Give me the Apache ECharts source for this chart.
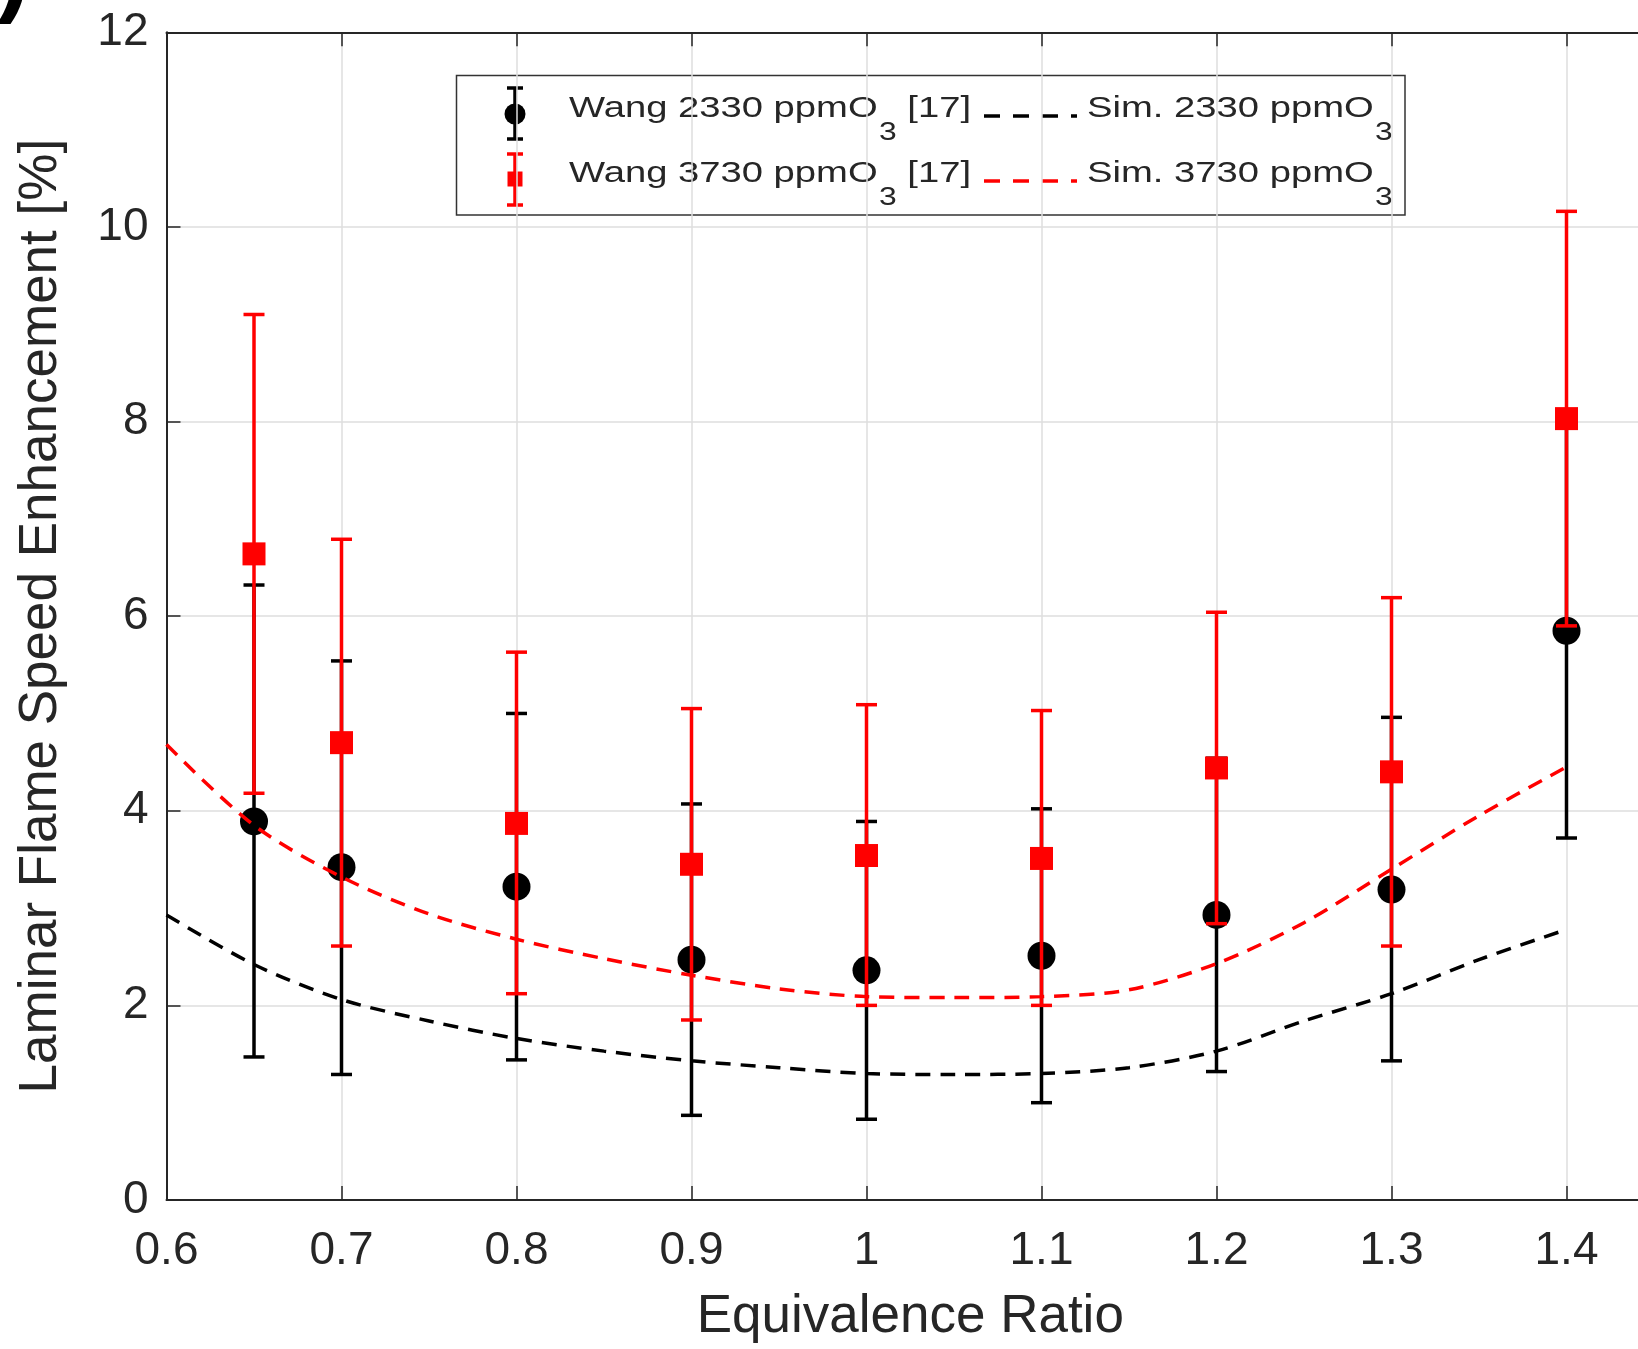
<!DOCTYPE html>
<html>
<head>
<meta charset="utf-8">
<script src="https://cdn.jsdelivr.net/npm/echarts@6/dist/echarts.min.js"></script>
<style>
  html, body { margin: 0; padding: 0; background: #ffffff; overflow: hidden; }
  #chart { width: 1700px; height: 1349px; }
</style>
</head>
<body>
<div id="chart"></div>
<script>
// ---------------- data ----------------
const phiExp = [0.65, 0.7, 0.8, 0.9, 1.0, 1.1, 1.2, 1.3, 1.4];
const wang2330Mean = [3.89, 3.42, 3.22, 2.47, 2.36, 2.51, 2.93, 3.19, 5.85];
const wang2330Low  = [1.47, 1.29, 1.44, 0.87, 0.83, 1.00, 1.32, 1.43, 3.72];
const wang2330High = [6.32, 5.54, 5.00, 4.07, 3.89, 4.02, 4.54, 4.96, 7.98];
const wang3730Mean = [6.64, 4.70, 3.87, 3.45, 3.54, 3.51, 4.44, 4.40, 8.03];
const wang3730Low  = [4.18, 2.61, 2.12, 1.85, 2.00, 2.00, 2.84, 2.61, 5.90];
const wang3730High = [9.10, 6.79, 5.63, 5.05, 5.09, 5.03, 6.04, 6.19, 10.16];

const phiSim  = [0.6, 0.65, 0.7, 0.75, 0.8, 0.85, 0.9, 0.95, 1.0, 1.05, 1.1, 1.15, 1.2, 1.25, 1.3, 1.35, 1.4];
const sim2330 = [2.93, 2.42, 2.06, 1.84, 1.66, 1.53, 1.43, 1.36, 1.30, 1.29, 1.30, 1.36, 1.53, 1.84, 2.12, 2.47, 2.78];
const sim3730 = [4.68, 3.85, 3.32, 2.94, 2.68, 2.48, 2.31, 2.17, 2.09, 2.08, 2.09, 2.16, 2.43, 2.85, 3.40, 3.95, 4.45];

const xName = 'Equivalence Ratio';
const yName = 'Laminar Flame Speed Enhancement [%]';
const seriesNames = ['Wang 2330 ppmO\u2083 [17]', 'Wang 3730 ppmO\u2083 [17]', 'Sim. 2330 ppmO\u2083', 'Sim. 3730 ppmO\u2083'];
// legend text pieces: [main, subscript, tail]
const legendPieces = [
  ['Wang 2330 ppmO', '3', ' [17]'],
  ['Wang 3730 ppmO', '3', ' [17]'],
  ['Sim. 2330 ppmO', '3', ''],
  ['Sim. 3730 ppmO', '3', '']
];

// ---------------- style ----------------
const FONT = '"Liberation Sans", Arial, Helvetica, sans-serif';
const AX = '#262626';
const RED = '#ff0000';
const BLK = '#000000';

const chart = echarts.init(document.getElementById('chart'), null, { renderer: 'canvas' });

function errRender(color) {
  return function (params, api) {
    const x = api.value(0), lo = api.value(1), hi = api.value(2);
    const pLo = api.coord([x, lo]);
    const pHi = api.coord([x, hi]);
    const hw = 10.5;
    const st = { stroke: color, lineWidth: 3.5, fill: null };
    return {
      type: 'group',
      children: [
        { type: 'line', shape: { x1: pLo[0], y1: pLo[1], x2: pHi[0], y2: pHi[1] }, style: st },
        { type: 'line', shape: { x1: pLo[0] - hw, y1: pLo[1], x2: pLo[0] + hw, y2: pLo[1] }, style: st },
        { type: 'line', shape: { x1: pHi[0] - hw, y1: pHi[1], x2: pHi[0] + hw, y2: pHi[1] }, style: st }
      ]
    };
  };
}

// measure text for legend layout
const mctx = document.createElement('canvas').getContext('2d');
function tw(t, size) { mctx.font = size + 'px ' + FONT; return mctx.measureText(t).width; }

const LEG_MAIN = 30, LEG_SUB = 25;
const rowW = tw(legendPieces[0][0], LEG_MAIN) + tw(legendPieces[0][1], LEG_SUB) + 1 + tw(legendPieces[0][2], LEG_MAIN);
const LEG_SX = 402 / rowW;

function legendText(pieces, x, yMid) {
  const w1 = tw(pieces[0], LEG_MAIN);
  const w2 = tw(pieces[1], LEG_SUB);
  const children = [
    { type: 'text', x: 0, y: yMid, style: { text: pieces[0], fontSize: LEG_MAIN, fontFamily: FONT, fill: AX, align: 'left', verticalAlign: 'middle' } },
    { type: 'text', x: w1 + 1, y: yMid + 24, style: { text: pieces[1], fontSize: LEG_SUB, fontFamily: FONT, fill: AX, align: 'left', verticalAlign: 'middle' } }
  ];
  if (pieces[2]) {
    children.push({ type: 'text', x: w1 + w2 + 1, y: yMid, style: { text: pieces[2], fontSize: LEG_MAIN, fontFamily: FONT, fill: AX, align: 'left', verticalAlign: 'middle' } });
  }
  return { type: 'group', x: x, y: 0, scaleX: LEG_SX, children: children };
}

function errIcon(color, cx, yTop, yBot, marker, my) {
  const st = { stroke: color, lineWidth: 3.5, fill: null };
  const ch = [
    { type: 'line', shape: { x1: cx, y1: yTop, x2: cx, y2: yBot }, style: st },
    { type: 'line', shape: { x1: cx - 8, y1: yTop, x2: cx + 8, y2: yTop }, style: st },
    { type: 'line', shape: { x1: cx - 8, y1: yBot, x2: cx + 8, y2: yBot }, style: st }
  ];
  if (marker === 'circle') ch.push({ type: 'circle', shape: { cx: cx, cy: my, r: 10.5 }, style: { fill: color } });
  else ch.push({ type: 'rect', shape: { x: cx - 7.5, y: my - 7.5, width: 15, height: 15 }, style: { fill: color } });
  return { type: 'group', children: ch };
}

const legendGraphic = {
  type: 'group',
  z: 100,
  children: [
    { type: 'rect', shape: { x: 456.5, y: 75.5, width: 948.5, height: 139.5 }, style: { fill: '#ffffff', stroke: '#333333', lineWidth: 1.5 } },
    errIcon(BLK, 515, 88, 139, 'circle', 114),
    errIcon(RED, 515, 154, 205, 'rect', 179),
    legendText(legendPieces[0], 569, 109),
    legendText(legendPieces[1], 569, 174),
    { type: 'line', shape: { x1: 984, y1: 116, x2: 1077, y2: 116 }, style: { stroke: BLK, lineWidth: 3.5, lineDash: [16, 13] } },
    { type: 'line', shape: { x1: 984, y1: 181, x2: 1077, y2: 181 }, style: { stroke: RED, lineWidth: 3.5, lineDash: [16, 13] } },
    legendText(legendPieces[2], 1087, 109),
    legendText(legendPieces[3], 1087, 174)
  ]
};

const option = {
  backgroundColor: '#ffffff',
  animation: false,
  textStyle: { fontFamily: FONT },
  grid: { left: 166.5, top: 32.3, width: 1487.5, height: 1175, containLabel: false },
  xAxis: [
    {
      type: 'value', min: 0.6, max: 1.45, interval: 0.1, position: 'bottom',
      name: xName, nameLocation: 'middle', nameGap: 91,
      nameTextStyle: { fontSize: 53, color: AX, fontFamily: FONT },
      axisLine: { show: true, onZero: false, lineStyle: { color: AX, width: 2 } },
      axisTick: { show: true, inside: true, length: 14, lineStyle: { color: AX, width: 1.5 } },
      axisLabel: {
        show: true, fontSize: 46, color: AX, margin: 28, showMaxLabel: false, fontFamily: FONT,
        formatter: function (v) { return String(Math.round(v * 10) / 10); }
      },
      splitLine: { show: true, lineStyle: { color: '#dedede', width: 1.5 } }
    },
    {
      type: 'value', min: 0.6, max: 1.45, interval: 0.1, position: 'top',
      axisLine: { show: true, onZero: false, lineStyle: { color: AX, width: 2 } },
      axisTick: { show: true, inside: true, length: 14, lineStyle: { color: AX, width: 1.5 } },
      axisLabel: { show: false },
      splitLine: { show: false }
    }
  ],
  yAxis: {
    type: 'value', min: 0, max: 12, interval: 2,
    name: yName, nameLocation: 'middle', nameGap: 99, nameRotate: 90,
    nameTextStyle: { fontSize: 53, color: AX, fontFamily: FONT },
    axisLine: { show: true, onZero: false, lineStyle: { color: AX, width: 2 } },
    axisTick: { show: true, inside: true, length: 14, lineStyle: { color: AX, width: 1.5 } },
    axisLabel: { fontSize: 46, color: AX, margin: 18, fontFamily: FONT },
    splitLine: { show: true, lineStyle: { color: '#dedede', width: 1.5 } }
  },
  series: [
    {
      name: seriesNames[0] + ' error', type: 'custom', z: 2,
      renderItem: errRender(BLK),
      encode: { x: 0, y: [1, 2] },
      data: phiExp.map((p, i) => [p, wang2330Low[i], wang2330High[i]])
    },
    {
      name: seriesNames[0], type: 'scatter', z: 3,
      symbol: 'circle', symbolSize: 28,
      itemStyle: { color: BLK, opacity: 1 },
      data: phiExp.map((p, i) => [p, wang2330Mean[i]])
    },
    {
      name: seriesNames[1] + ' error', type: 'custom', z: 4,
      renderItem: errRender(RED),
      encode: { x: 0, y: [1, 2] },
      data: phiExp.map((p, i) => [p, wang3730Low[i], wang3730High[i]])
    },
    {
      name: seriesNames[1], type: 'scatter', z: 5,
      symbol: 'rect', symbolSize: 23,
      itemStyle: { color: RED, opacity: 1 },
      data: phiExp.map((p, i) => [p, wang3730Mean[i]])
    },
    {
      name: seriesNames[2], type: 'line', z: 6,
      showSymbol: false, symbol: 'none', smooth: 0.3,
      lineStyle: { color: BLK, width: 3.5, type: [15, 10] },
      data: phiSim.map((p, i) => [p, sim2330[i]])
    },
    {
      name: seriesNames[3], type: 'line', z: 7,
      showSymbol: false, symbol: 'none', smooth: 0.3,
      lineStyle: { color: RED, width: 3.5, type: [15, 10] },
      data: phiSim.map((p, i) => [p, sim3730[i]])
    }
  ],
  graphic: [
    legendGraphic,
    { type: 'text', x: 30, y: 25, z: 100, style: { text: ')', fontSize: 100, fontWeight: 'bold', fontFamily: FONT, fill: '#000', align: 'right', verticalAlign: 'bottom' } }
  ]
};

chart.setOption(option);
</script>
</body>
</html>
